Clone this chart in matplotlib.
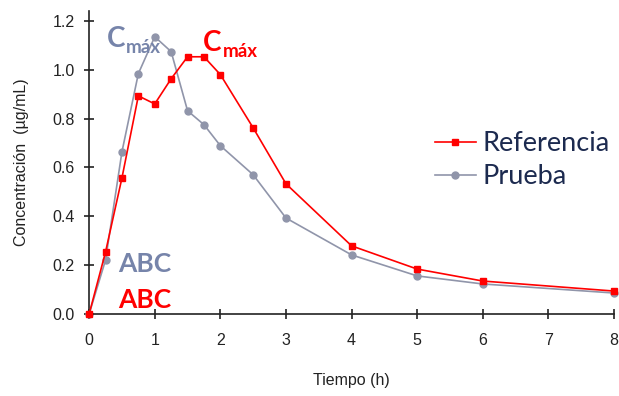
import matplotlib
matplotlib.use("Agg")
import matplotlib.pyplot as plt

# data
t = [0, 0.25, 0.5, 0.75, 1, 1.25, 1.5, 1.75, 2, 2.5, 3, 4, 5, 6, 8]
referencia = [0, 0.254, 0.557, 0.893, 0.86, 0.963, 1.053, 1.053, 0.98, 0.762, 0.533, 0.279, 0.184, 0.135, 0.094]
prueba = [0, 0.221, 0.664, 0.984, 1.135, 1.074, 0.832, 0.775, 0.689, 0.57, 0.393, 0.242, 0.156, 0.123, 0.086]
xticks = [0, 1, 2, 3, 4, 5, 6, 7, 8]
yticks = [0.0, 0.2, 0.4, 0.6, 0.8, 1.0, 1.2]

red = "#ff0000"
grey = "#9095aa"
grey_txt = "#7684aa"

fig = plt.figure(figsize=(6.19, 3.96), dpi=100)
ax = fig.add_axes([0.144, 0.207, 0.848, 0.765])

ax.plot(t, referencia, color=red, lw=1.2, marker="s", ms=4, label="Referencia", clip_on=False, zorder=3)
ax.plot(t, prueba, color=grey, lw=1.2, marker="o", ms=5, label="Prueba", clip_on=False, zorder=2)

ax.set_xlim(0, 8)
ax.set_ylim(0, 1.24)
ax.set_xticks(xticks)
ax.set_yticks(yticks)
ax.set_yticklabels(["%.1f" % v for v in yticks])
for s in ["top", "right"]:
    ax.spines[s].set_visible(False)
for s in ["left", "bottom"]:
    ax.spines[s].set_linewidth(1.2)
    ax.spines[s].set_color("#222222")
ax.tick_params(direction="inout", length=7, width=1.2, labelsize=11.5,
               labelfontfamily="Liberation Sans", color="#222222", labelcolor="#222222")
ax.tick_params(axis="x", pad=10)
ax.tick_params(axis="y", pad=7)

ax.set_xlabel("Tiempo (h)", fontsize=11.5, family="Liberation Sans", labelpad=18, color="#222222")
ax.set_ylabel("Concentración  (µg/mL)", fontsize=11.5, family="Liberation Sans", labelpad=17, color="#222222")

# annotations
bold = dict(family="Lato", fontweight="bold")
ax.text(0.27, 1.094, "C", color=grey_txt, fontsize=20, ha="left", va="baseline", **bold)
ax.annotate("máx", (0.27, 1.094), xytext=(14, -4.5), textcoords="offset points",
            color=grey_txt, fontsize=13.5, ha="left", va="baseline", **bold)
ax.text(1.74, 1.078, "C", color=red, fontsize=20, ha="left", va="baseline", **bold)
ax.annotate("máx", (1.74, 1.078), xytext=(14, -4.5), textcoords="offset points",
            color=red, fontsize=13.5, ha="left", va="baseline", **bold)
ax.text(0.44, 0.172, "ABC", color=grey_txt, fontsize=19, ha="left", va="baseline", **bold)
ax.text(0.44, 0.025, "ABC", color=red, fontsize=19, ha="left", va="baseline", **bold)

leg = ax.legend(loc="center left", bbox_to_anchor=(0.659, 0.508), frameon=False,
                prop=dict(family="Lato", size=19.5), handlelength=1.5,
                handletextpad=0.25, labelspacing=0.3, borderaxespad=0, borderpad=0)
for txt in leg.get_texts():
    txt.set_color("#1c2a4f")

fig.savefig("out.png", dpi=100)
